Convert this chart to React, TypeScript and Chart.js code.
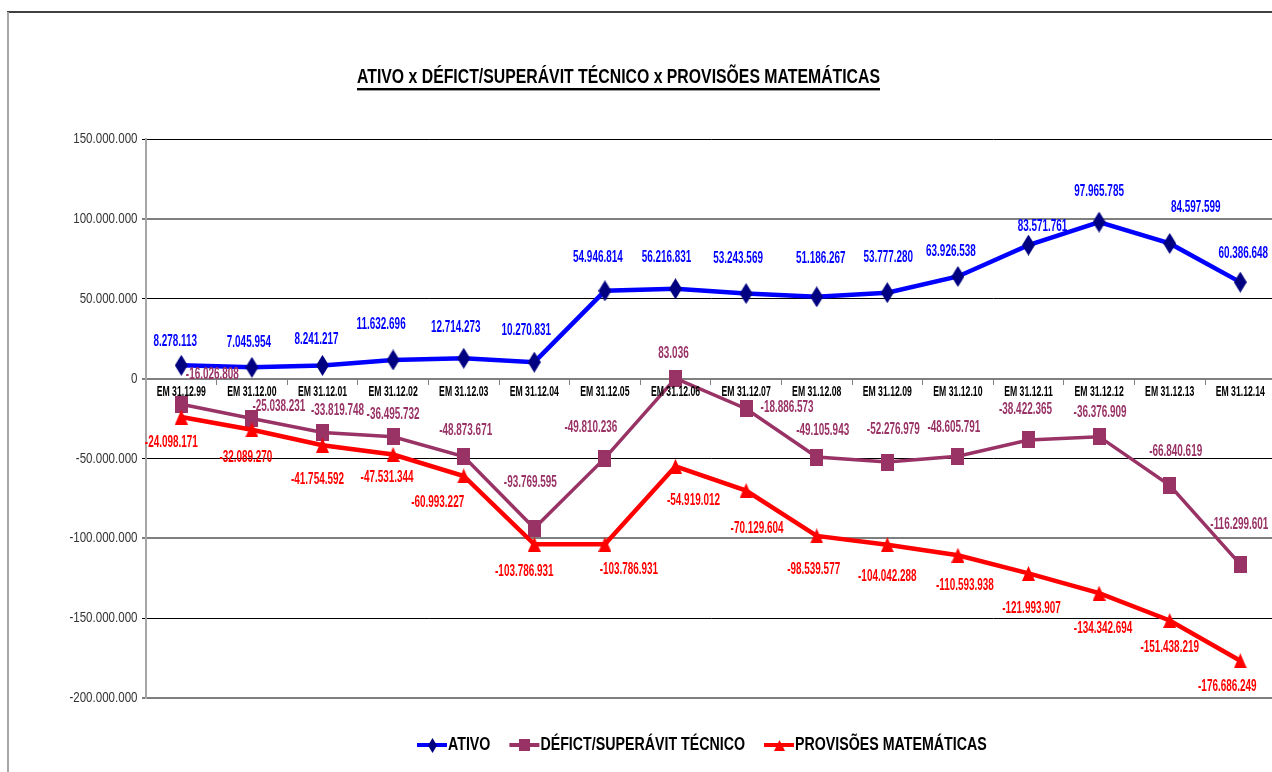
import React, { useEffect, useRef } from 'react';
import { Chart, registerables } from 'chart.js';

Chart.register(...registerables);

const TITLE = 'ATIVO x DÉFICT/SUPERÁVIT TÉCNICO x PROVISÕES MATEMÁTICAS';

const CATEGORIES = [
  'EM 31.12.99', 'EM 31.12.00', 'EM 31.12.01', 'EM 31.12.02', 'EM 31.12.03', 'EM 31.12.04',
  'EM 31.12.05', 'EM 31.12.06', 'EM 31.12.07', 'EM 31.12.08', 'EM 31.12.09', 'EM 31.12.10',
  'EM 31.12.11', 'EM 31.12.12', 'EM 31.12.13', 'EM 31.12.14',
];

const ATIVO = [
  8278113, 7045954, 8241217, 11632696, 12714273, 10270831, 54946814, 56216831,
  53243569, 51186267, 53777280, 63926538, 83571761, 97965785, 84597599, 60386648,
];

const DEFICIT = [
  -16026808, -25038231, -33819748, -36495732, -48873671, -93769595, -49810236, 83036,
  -18886573, -49105943, -52276979, -48605791, -38422365, -36376909, -66840619, -116299601,
];

const PROVISOES = [
  -24098171, -32089270, -41754592, -47531344, -60993227, -103786931, -103786931, -54919012,
  -70129604, -98539577, -104042288, -110593938, -121993907, -134342694, -151438219, -176686249,
];

const SERIES_NAMES = ['ATIVO', 'DÉFICT/SUPERÁVIT TÉCNICO', 'PROVISÕES MATEMÁTICAS'];

const Y_MIN = -200000000;
const Y_MAX = 150000000;
const Y_STEP = 50000000;

// label placement offsets (px, relative to the point) – layout only
const ATIVO_LABEL_DX = [-6, -3, -6, -12, -8, -8, -7, -9, -8, 4, 1, -7, 14, 0, 26, 3];
const ATIVO_LABEL_DY = [-24, -25, -26, -35, -31, -32, -33, -31, -35, -38, -35, -25, -19, -31, -36, -29];
const DEFICIT_LABEL_DX = [31, 27, 15, 0, 2, -4, -14, -2, 41, 6, 6, -4, -3, 1, 6, -1];
const DEFICIT_LABEL_DY = [-30, -12, -22, -22, -26, -46, -31, -25, -1, -26, -32, -29, -30, -24, -34, -40];
const PROV_LABEL_DX = [-10, -6, -5, -6, -26, -10, 24, 18, 11, -3, 0, 7, 3, 4, 0, -13];
const PROV_LABEL_DY = [26, 28, 34, 23, 27, 27, 25, 34, 38, 34, 32, 30, 35, 35, 27, 26];

const FONT = "'Liberation Sans', Arial, sans-serif";

const BLUE = '#0000FF';
const NAVY = '#000080';
const PLUM = '#993366';
const RED = '#FF0000';

const CANVAS_W = 1280;
const CANVAS_H = 772;

function fmt(v: number): string {
  return Math.round(v).toString().replace(/\B(?=(\d{3})+(?!\d))/g, '.');
}

function makeMarker(kind: string, w: number, h: number, color: string): HTMLCanvasElement {
  const c = document.createElement('canvas');
  c.width = w;
  c.height = h;
  const g = c.getContext('2d')!;
  g.fillStyle = color;
  g.beginPath();
  if (kind === 'diamond') {
    g.moveTo(w / 2, 0);
    g.lineTo(w, h / 2);
    g.lineTo(w / 2, h);
    g.lineTo(0, h / 2);
  } else if (kind === 'square') {
    g.rect(0, 0, w, h);
  } else {
    g.moveTo(w / 2, 0);
    g.lineTo(w, h);
    g.lineTo(0, h);
  }
  g.closePath();
  g.fill();
  return c;
}

function drawText(
  ctx: CanvasRenderingContext2D,
  text: string,
  x: number,
  y: number,
  font: string,
  sx: number,
  align: CanvasTextAlign,
  color: string,
) {
  ctx.save();
  ctx.font = font;
  ctx.fillStyle = color;
  ctx.textAlign = align;
  ctx.textBaseline = 'middle';
  ctx.translate(x, y);
  ctx.scale(sx, 1);
  ctx.fillText(text, 0, 0);
  ctx.restore();
}

export default function App() {
  const ref = useRef<HTMLCanvasElement | null>(null);

  useEffect(() => {
    const canvas = ref.current;
    if (!canvas) return;

    const diamond = makeMarker('diamond', 13, 21, NAVY);
    const square = makeMarker('square', 13, 17, PLUM);
    const triangle = makeMarker('triangle', 13, 15, RED);
    const legendMarkers = [
      makeMarker('diamond', 9, 15, NAVY),
      makeMarker('square', 11, 12, PLUM),
      makeMarker('triangle', 11, 11, RED),
    ];
    const lineColors = [BLUE, PLUM, RED];
    const labelColors = [BLUE, PLUM, RED];
    const dxs = [ATIVO_LABEL_DX, DEFICIT_LABEL_DX, PROV_LABEL_DX];
    const dys = [ATIVO_LABEL_DY, DEFICIT_LABEL_DY, PROV_LABEL_DY];

    const decorPlugin = {
      id: 'decor',
      afterDatasetsDraw(chart: any) {
        const ctx = chart.ctx as CanvasRenderingContext2D;
        const xs = chart.scales.x;
        const ys = chart.scales.y;
        // axis labels
        const zeroY = ys.getPixelForValue(0);
        CATEGORIES.forEach((c, i) => {
          drawText(ctx, c, xs.getPixelForTick(i), zeroY + 14, `bold 14px ${FONT}`, 0.62, 'center', '#000');
        });
        ys.ticks.forEach((t: any) => {
          drawText(ctx, fmt(t.value), 137.5, ys.getPixelForValue(t.value), `15px ${FONT}`, 0.77, 'right', '#333');
        });
        // data labels
        chart.data.datasets.forEach((ds: any, di: number) => {
          const meta = chart.getDatasetMeta(di);
          meta.data.forEach((pt: any, i: number) => {
            drawText(ctx, fmt(ds.data[i]), pt.x + dxs[di][i], pt.y + dys[di][i], `bold 16px ${FONT}`, 0.62, 'center', labelColors[di]);
          });
        });
      },
      afterDraw(chart: any) {
        const ctx = chart.ctx as CanvasRenderingContext2D;
        ctx.save();
        // frame
        ctx.strokeStyle = '#000';
        ctx.lineWidth = 1.5;
        ctx.beginPath();
        ctx.moveTo(7, 12);
        ctx.lineTo(CANVAS_W, 12);
        ctx.stroke();
        ctx.strokeStyle = '#a6a6a6';
        ctx.lineWidth = 2;
        ctx.beginPath();
        ctx.moveTo(8, 12);
        ctx.lineTo(8, CANVAS_H);
        ctx.stroke();

        // title (fit to its width in the reference)
        const titleFont = `bold 21px ${FONT}`;
        ctx.font = titleFont;
        const rawW = ctx.measureText(TITLE).width;
        const titleW = 523;
        const tx = 618.5;
        drawText(ctx, TITLE, tx, 77, titleFont, titleW / rawW, 'center', '#000');
        ctx.fillStyle = '#000';
        ctx.fillRect(tx - titleW / 2, 88, titleW, 2);
        ctx.fillStyle = '#999';
        ctx.fillRect(tx - titleW / 2, 90, titleW, 1);

        // legend
        const legendFont = `bold 18px ${FONT}`;
        const lsx = 0.79;
        ctx.font = legendFont;
        const sampleW = 30;
        const gap = 1;
        const itemGap = 19;
        let x = 417;
        const ly = 745;
        SERIES_NAMES.forEach((name, i) => {
          ctx.strokeStyle = lineColors[i];
          ctx.lineWidth = 4;
          ctx.beginPath();
          ctx.moveTo(x, ly);
          ctx.lineTo(x + sampleW, ly);
          ctx.stroke();
          const m = legendMarkers[i];
          ctx.drawImage(m, Math.round(x + sampleW / 2 - m.width / 2), Math.round(ly - m.height / 2));
          ctx.font = legendFont;
          const w = ctx.measureText(name).width * lsx;
          drawText(ctx, name, x + sampleW + gap, ly, legendFont, lsx, 'left', '#000');
          x += sampleW + gap + w + itemGap;
        });
        ctx.restore();
      },
    };

    const chart = new Chart(canvas, {
      type: 'line',
      data: {
        labels: CATEGORIES,
        datasets: [
          {
            label: SERIES_NAMES[0],
            data: ATIVO,
            borderColor: BLUE,
            backgroundColor: NAVY,
            borderWidth: 4.5,
            pointStyle: diamond as any,
            pointRadius: 10,
            tension: 0,
            order: 3,
          },
          {
            label: SERIES_NAMES[1],
            data: DEFICIT,
            borderColor: PLUM,
            backgroundColor: PLUM,
            borderWidth: 3.5,
            pointStyle: square as any,
            pointRadius: 10,
            tension: 0,
            order: 2,
          },
          {
            label: SERIES_NAMES[2],
            data: PROVISOES,
            borderColor: RED,
            backgroundColor: RED,
            borderWidth: 4.5,
            pointStyle: triangle as any,
            pointRadius: 10,
            tension: 0,
            order: 1,
          },
        ],
      },
      options: {
        animation: false,
        responsive: false,
        maintainAspectRatio: false,
        devicePixelRatio: 1,
        layout: {
          autoPadding: false,
          padding: { left: 0, right: CANVAS_W - 1275.6, top: 139, bottom: CANVAS_H - 698 },
        },
        plugins: {
          legend: { display: false },
          title: { display: false },
          tooltip: { enabled: false },
        },
        scales: {
          x: {
            type: 'category',
            position: { y: 0 } as any,
            offset: true,
            afterFit: (s: any) => {
              s.height = 0;
              s.paddingLeft = 0;
              s.paddingRight = 0;
            },
            grid: {
              display: true,
              drawOnChartArea: false,
              offset: true,
              tickLength: 5,
              color: '#808080',
              lineWidth: 1,
            },
            border: { display: true, color: '#808080', width: 2 },
            ticks: { display: false, autoSkip: false, maxRotation: 0 },
          },
          y: {
            min: Y_MIN,
            max: Y_MAX,
            afterFit: (s: any) => {
              s.width = 146;
              s.paddingTop = 0;
              s.paddingBottom = 0;
            },
            ticks: { display: false, stepSize: Y_STEP },
            grid: {
              color: (c: any) => (c.tick && c.tick.value % 100000000 === 0 ? '#7f7f7f' : '#000'),
              lineWidth: (c: any) => (c.tick && c.tick.value % 100000000 === 0 ? 2 : 1),
              tickLength: 4,
            },
            border: { display: true, color: '#a6a6a6', width: 2 },
          },
        },
      },
      plugins: [decorPlugin],
    });

    return () => {
      chart.destroy();
    };
  }, []);

  return (
    <div style={{ position: 'fixed', left: 0, top: 0, width: 1272, height: 772, overflow: 'hidden', background: '#fff' }}>
      <canvas ref={ref} width={CANVAS_W} height={CANVAS_H} style={{ display: 'block', width: CANVAS_W, height: CANVAS_H }} />
    </div>
  );
}
